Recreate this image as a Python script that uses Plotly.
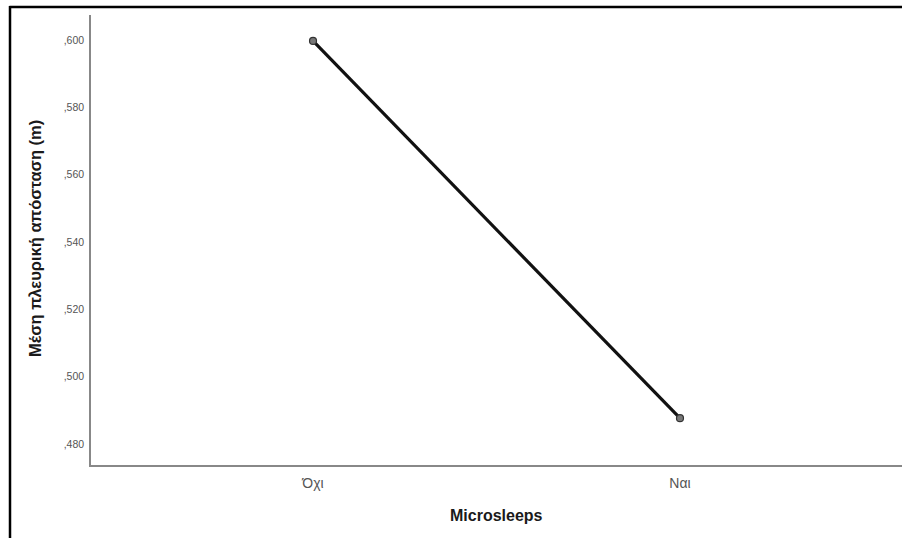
import plotly.graph_objects as go

# Group means of lateral distance by microsleep occurrence
categories = ["Όχι", "Ναι"]
mean_distance = [0.5997, 0.4877]

y_tick_vals = [0.48, 0.50, 0.52, 0.54, 0.56, 0.58, 0.60]
y_tick_text = [",480", ",500", ",520", ",540", ",560", ",580", ",600"]

x_title = "Microsleeps"
y_title = "Μέση πλευρική απόσταση (m)"

W, H = 902, 538
L, R, T, B = 91, 0, 15, 73
pw, ph = W - L - R, H - T - B

def px_x(x):
    return (x - L) / pw

def px_y(y):
    return (H - B - y) / ph

x_pos = list(range(len(categories)))

fig = go.Figure()
fig.add_trace(go.Scatter(
    x=x_pos,
    y=mean_distance,
    mode="lines+markers",
    line=dict(color="#111111", width=3.2),
    marker=dict(size=7, color="#777777", line=dict(color="#333333", width=1.2)),
    hoverinfo="skip",
    showlegend=False,
))

fig.update_layout(
    width=W, height=H,
    margin=dict(l=L, r=R, t=T, b=B),
    paper_bgcolor="white",
    plot_bgcolor="white",
    font=dict(family="Liberation Sans, Arial, sans-serif", color="#222222"),
    xaxis=dict(
        range=[-0.605, 1.605],
        tickvals=x_pos,
        ticktext=categories,
        showgrid=False, zeroline=False,
        showline=True, linecolor="#888888", linewidth=1.5,
        ticks="", tickfont=dict(size=14, color="#555555"),
        ticklabelstandoff=4,
    ),
    yaxis=dict(
        range=[0.4738, 0.6074],
        tickvals=y_tick_vals,
        ticktext=y_tick_text,
        showgrid=False, zeroline=False,
        showline=True, linecolor="#888888", linewidth=1.5,
        ticks="", tickfont=dict(size=10.5, color="#555555"),
        ticklabelstandoff=3,
    ),
    annotations=[
        dict(text="<b>" + x_title + "</b>", xref="paper", yref="paper",
             x=0.5, y=px_y(515), xanchor="center", yanchor="middle",
             showarrow=False, font=dict(size=16, color="#1a1a1a")),
        dict(text="<b>" + y_title + "</b>", xref="paper", yref="paper",
             x=px_x(35), y=px_y(239), xanchor="center", yanchor="middle",
             textangle=-90, showarrow=False, font=dict(size=16.5, color="#1a1a1a")),
    ],
    shapes=[
        dict(type="line", xref="paper", yref="paper",
             x0=px_x(9.5), x1=px_x(W + 2), y0=px_y(7), y1=px_y(7),
             line=dict(color="black", width=2.5)),
        dict(type="line", xref="paper", yref="paper",
             x0=px_x(10), x1=px_x(10), y0=px_y(6), y1=px_y(H + 2),
             line=dict(color="black", width=2.5)),
    ],
)

fig.write_html("out.html")
